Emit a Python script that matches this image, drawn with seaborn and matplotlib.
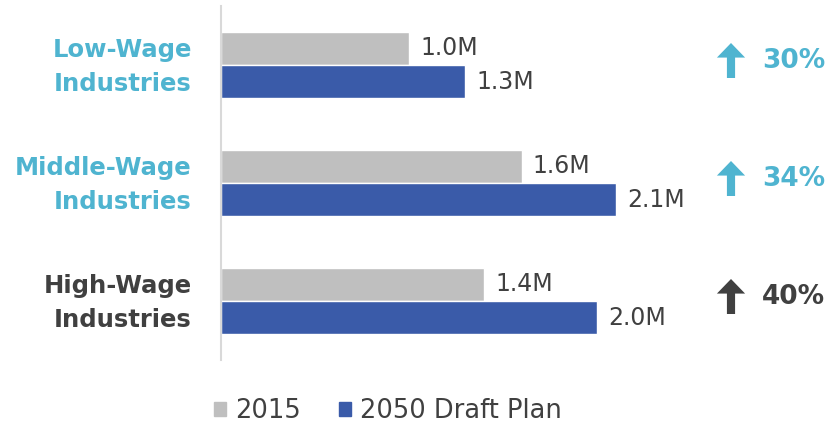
import matplotlib
matplotlib.use("Agg")
import matplotlib.pyplot as plt
import matplotlib.transforms as mtransforms
import seaborn as sns
import pandas as pd

# Employment by industry wage tier (millions of jobs)
categories = ["Low-Wage\nIndustries", "Middle-Wage\nIndustries", "High-Wage\nIndustries"]
series = ["2015", "2050 Draft Plan"]
jobs_2015 = [1.0, 1.6, 1.4]
jobs_2050 = [1.3, 2.1, 2.0]
growth_labels = ["30%", "34%", "40%"]

GRAY = "#BFBFBF"
BLUE = "#3A5BA9"
AQUA = "#4FB4D0"
DARK = "#404040"
label_colors = [AQUA, AQUA, DARK]

df = pd.DataFrame({
    "category": categories * 2,
    "series": [series[0]] * 3 + [series[1]] * 3,
    "jobs": jobs_2015 + jobs_2050,
})

sns.set_theme(style="white")
plt.rcParams["font.family"] = ["DejaVu Sans"]

fig = plt.figure(figsize=(8.36, 4.36), dpi=100)
ax = fig.add_axes([221 / 836, 76 / 436, 479 / 836, 354 / 436])

sns.barplot(data=df, y="category", x="jobs", hue="series", orient="h",
            palette=[GRAY, BLUE], saturation=1, width=0.56, ax=ax, legend=False,
            edgecolor="white", linewidth=1)

ax.set_xlim(0, 479 / 188)
ax.set_ylim(2.5, -0.5)
ax.set_xlabel("")
ax.set_ylabel("")
ax.set_xticks([])
for side in ["top", "right", "bottom"]:
    ax.spines[side].set_visible(False)
ax.spines["left"].set_color("#D9D9D9")
ax.spines["left"].set_linewidth(1.5)

ax.set_yticks(range(len(categories)))
ax.set_yticklabels(categories, fontsize=17.5, fontweight="bold",
                   multialignment="right", linespacing=1.55)
ax.tick_params(axis="y", length=0, pad=21)
lift = mtransforms.ScaledTranslation(0, 6 / 100, fig.dpi_scale_trans)
for lbl, c in zip(ax.get_yticklabels(), label_colors):
    lbl.set_color(c)
    lbl.set_transform(lbl.get_transform() + lift)

for cont in ax.containers:
    ax.bar_label(cont, labels=[f"{v:.1f}M" for v in cont.datavalues],
                 padding=8, fontsize=17, color=DARK)

# Growth arrows and percentages on the right
for i, (txt, c) in enumerate(zip(growth_labels, label_colors)):
    _, y_px = ax.transData.transform((0, i))
    ay = y_px + 4
    ax.annotate("", xy=(731, ay + 18), xytext=(731, ay - 17),
                xycoords="figure pixels", textcoords="figure pixels",
                arrowprops=dict(arrowstyle="simple,head_length=0.75,head_width=1.45,tail_width=0.42",
                                color=c, mutation_scale=14, shrinkA=0, shrinkB=0, lw=0))
    fig.text(762 / 836, (y_px + 4) / 436, txt, fontsize=19, fontweight="bold",
             color=c, ha="left", va="center")

handles = [plt.Rectangle((0, 0), 1, 1, color=GRAY), plt.Rectangle((0, 0), 1, 1, color=BLUE)]
fig.legend(handles, series, loc="center", bbox_to_anchor=(388 / 836, 25 / 436),
           ncol=2, frameon=False, fontsize=18.5, handlelength=0.47, handleheight=0.47,
           handletextpad=0.38, columnspacing=1.45, labelcolor=DARK)

fig.savefig("out.png", dpi=100)
